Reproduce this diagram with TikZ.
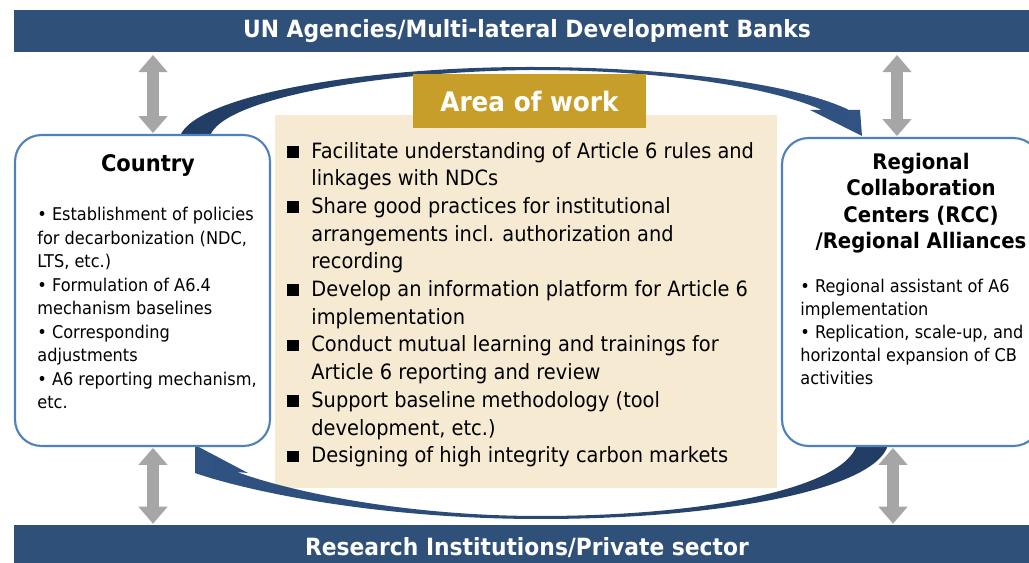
\documentclass[tikz,border=0pt]{standalone}
\usepackage{fontspec}
\setmainfont{DejaVu Sans}[FakeStretch=0.92]
\usetikzlibrary{arrows.meta}

\definecolor{barblue}{HTML}{2F5078}
\definecolor{arcdark}{HTML}{223D64}
\definecolor{arclight}{HTML}{305383}
\definecolor{boxline}{HTML}{4F81BD}
\definecolor{workbg}{HTML}{F6EBD2}
\definecolor{workgold}{HTML}{C89E2A}
\definecolor{arrgray}{HTML}{A6A6A6}

\newcommand{\sqb}{\makebox[13.7pt][l]{\rule[0.3pt]{6.6pt}{6.6pt}}}
\newcommand{\ind}{\hspace*{13.7pt}}

\tikzset{
  bar/.style={fill=barblue,text=white,inner sep=0,minimum width=20.52cm,
    font=\fontsize{13.5}{16}\selectfont\bfseries},
  sidebox/.style={draw=boxline,line width=1.2pt,fill=white,rounded corners=15pt},
  grayarr/.style={draw=arrgray,line width=6.3pt,
    arrows={Triangle[width=16pt,length=9.7pt]-Triangle[width=16pt,length=9.7pt]}},
  listtext/.style={anchor=base west,align=left,inner sep=0},
}

\begin{document}
\begin{tikzpicture}[x=0.02cm,y=-0.02cm]
\useasboundingbox (0,0) rectangle (1029,563);

\node[bar,minimum height=0.84cm] (un) at (527,31) {UN Agencies/Multi-lateral Development Banks};
\node[bar,minimum height=0.92cm] (res) at (527,548) {Research Institutions/Private sector};

\node[fill=workbg,minimum width=10.04cm,minimum height=7.46cm] (work) at (526,301.5) {};

% curved arrows
\shade[left color=arcdark,right color=arclight] (180,136) .. controls (196,96) and (360,67) .. (530,67)
  .. controls (680,67) and (800,86) .. (849,110) -- (860,110) -- (862,136) -- (810,110) -- (822,110)
  .. controls (780,91) and (680,70) .. (530,70)
  .. controls (370,72) and (222,100) .. (210,136) -- cycle;
\shade[left color=arclight,right color=arcdark] (888,445) .. controls (875,490) and (720,519) .. (540,519)
  .. controls (380,519) and (250,492) .. (195,473) -- (195,445) -- (248,473) -- (237,472)
  .. controls (285,490) and (400,516) .. (540,516)
  .. controls (700,516) and (842,490) .. (857,445) -- cycle;

\node[sidebox,minimum width=5.1cm,minimum height=6.22cm] (country) at (142.5,290.5) {};
\node[sidebox,minimum width=5.16cm,minimum height=6.16cm] (rcc) at (911,292) {};

\node[fill=workgold,text=white,minimum width=4.66cm,minimum height=1.08cm,
  font=\fontsize{15.3}{18}\selectfont\bfseries] (aow) at (529.5,101) {Area of work};

% links to the bars
\coordinate (lx) at (153,0);
\coordinate (rx) at (897,0);
\coordinate (rxb) at (893,0);
\draw[grayarr,shorten <=1.5pt,shorten >=0.5pt] (un.south -| lx) -- (country.north -| lx);
\draw[grayarr,shorten <=1.5pt,shorten >=0.5pt] (un.south -| rx) -- (rcc.north -| rx);
\draw[grayarr,shorten <=0.5pt,shorten >=0.5pt] (country.south -| lx) -- (res.north -| lx);
\draw[grayarr,shorten <=0.5pt,shorten >=0.5pt] (rcc.south -| rxb) -- (res.north -| rxb);

\node[anchor=base,inner sep=0,font=\fontsize{13}{15}\selectfont\bfseries] (ctitle) at (148,172) {Country};
\node[listtext,font=\fontsize{10}{13.4}\selectfont] (clist) at (37,409) {%
• Establishment of policies\\
for decarbonization (NDC,\\
LTS, etc.)\\
• Formulation of A6.4\\
mechanism baselines\\
• Corresponding\\
adjustments\\
• A6 reporting mechanism,\\
etc.};

\node[anchor=base,align=center,inner sep=0,font=\fontsize{12.2}{15}\selectfont\bfseries] (rtitle) at (921,248.5) {%
Regional\\Collaboration\\Centers (RCC)\\/Regional Alliances};
\node[listtext,font=\fontsize{10}{13.1}\selectfont] (rlist) at (800,385) {%
• Regional assistant of A6\\
implementation\\
• Replication, scale-up, and\\
horizontal expansion of CB\\
activities};

\node[listtext,font=\fontsize{12}{15.76}\selectfont] (wlist) at (287,462.7) {%
\sqb Facilitate understanding of Article 6 rules and\\
\ind linkages with NDCs\\
\sqb Share good practices for institutional\\
\ind arrangements incl. authorization and\\
\ind recording\\
\sqb Develop an information platform for Article 6\\
\ind implementation\\
\sqb Conduct mutual learning and trainings for\\
\ind Article 6 reporting and review\\
\sqb Support baseline methodology (tool\\
\ind development, etc.)\\
\sqb Designing of high integrity carbon markets};
\end{tikzpicture}
\end{document}
